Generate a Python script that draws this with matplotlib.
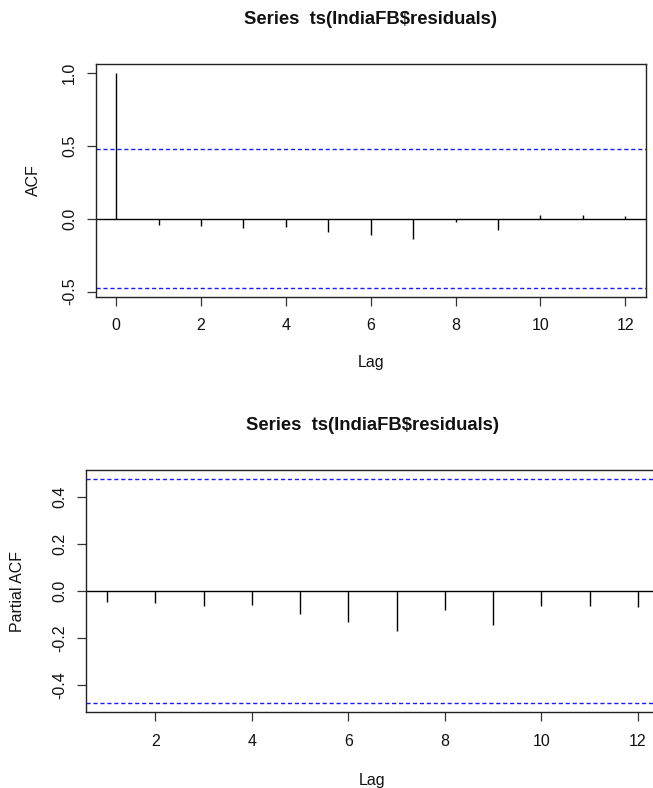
import matplotlib
matplotlib.use("Agg")
import matplotlib.pyplot as plt
import numpy as np

plt.rcParams['font.family'] = ['Liberation Sans', 'DejaVu Sans']

# ---- data ----
acf_lags = [0, 1, 2, 3, 4, 5, 6, 7, 8, 9, 10, 11, 12]
acf_vals = [1.0, -0.046, -0.050, -0.064, -0.057, -0.091, -0.109, -0.139,
            -0.025, -0.077, 0.023, 0.025, 0.016]
pacf_lags = [1, 2, 3, 4, 5, 6, 7, 8, 9, 10, 11, 12]
pacf_vals = [-0.044, -0.052, -0.062, -0.059, -0.098, -0.129, -0.171,
             -0.081, -0.142, -0.061, -0.062, -0.069]
n_obs = 17
clim = 1.96 / np.sqrt(n_obs)
title_text = "Series  ts(IndiaFB$residuals)"
acf_yticks = [-0.5, 0.0, 0.5, 1.0]
acf_xticks = [0, 2, 4, 6, 8, 10, 12]
pacf_yticks = [-0.4, -0.2, 0.0, 0.2, 0.4]
pacf_xticks = [2, 4, 6, 8, 10, 12]

W, H = 653, 788
fig = plt.figure(figsize=(W / 100, H / 100), dpi=100)


def px_axes(left, right, top, bottom):
    return fig.add_axes([left / W, (H - bottom) / H, (right - left) / W, (bottom - top) / H])


def style(ax):
    for s in ax.spines.values():
        s.set_color('#222222')
        s.set_linewidth(1.0)
    ax.tick_params(direction='out', length=6.5, width=0.9, color='#333333',
                   labelsize=11.5, labelcolor='#111111')
    ax.tick_params(axis='x', pad=9)
    ax.tick_params(axis='y', pad=7)
    for lab in ax.get_yticklabels():
        lab.set_rotation(90)
        lab.set_va('center')


def rlim(lo, hi):
    d = (hi - lo) * 0.04
    return lo - d, hi + d


dash = dict(color='#1a1aff', linewidth=1.0, linestyle=(0, (3, 2)))

# ---- ACF panel ----
ax1 = px_axes(95.7, 645.7, 64, 296.7)
ax1.vlines(acf_lags, 0, acf_vals, color='black', linewidth=1.0)
ax1.axhline(0, color='black', linewidth=1.0)
ax1.axhline(clim, **dash)
ax1.axhline(-clim, **dash)
ax1.set_xlim(*rlim(min(acf_lags), max(acf_lags)))
ax1.set_ylim(*rlim(min(min(acf_vals), -clim), max(max(acf_vals), clim)))
ax1.set_xticks(acf_xticks)
ax1.set_yticks(acf_yticks)
ax1.set_yticklabels([f"{v:.1f}" for v in acf_yticks])
style(ax1)

# ---- PACF panel ----
ax2 = px_axes(86, 659.2, 470.3, 712)
ax2.vlines(pacf_lags, 0, pacf_vals, color='black', linewidth=1.0)
ax2.axhline(0, color='black', linewidth=1.0)
ax2.axhline(clim, **dash)
ax2.axhline(-clim, **dash)
ax2.set_xlim(*rlim(min(pacf_lags), max(pacf_lags)))
ax2.set_ylim(*rlim(min(min(pacf_vals), -clim), max(max(pacf_vals), clim)))
ax2.set_xticks(pacf_xticks)
ax2.set_yticks(pacf_yticks)
ax2.set_yticklabels([f"{v:.1f}" for v in pacf_yticks])
style(ax2)


def ftext(x, y, s, **kw):
    fig.text(x / W, 1 - y / H, s, ha='center', va='center', **kw)


ftext(370.7, 20, title_text, fontsize=13.3, fontweight='bold', color='#111111')
ftext(370.7, 362, "Lag", fontsize=11.5, color='#111111')
ftext(33, 180, "ACF", fontsize=11.5, rotation=90, color='#111111')

ftext(372.5, 425, title_text, fontsize=13.3, fontweight='bold', color='#111111')
ftext(372.5, 780, "Lag", fontsize=11.5, color='#111111')
ftext(18, 591, "Partial ACF", fontsize=11.5, rotation=90, color='#111111')

fig.savefig("out.png", dpi=100)
